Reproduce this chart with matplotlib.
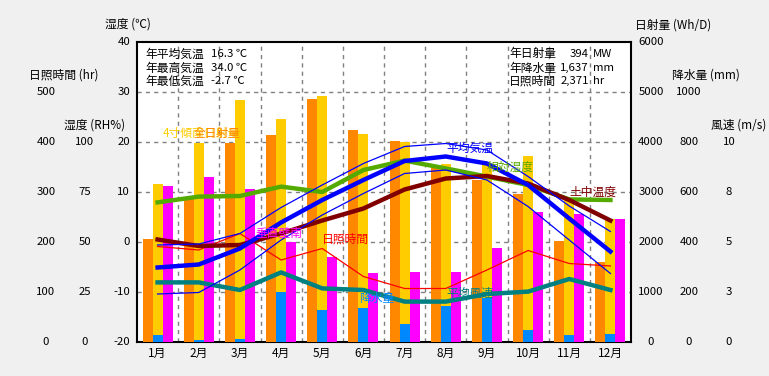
import matplotlib
matplotlib.use("Agg")
import matplotlib.pyplot as plt
import matplotlib.transforms as mtransforms
import numpy as np

plt.rcParams['font.family'] = ['Noto Sans CJK JP', 'DejaVu Sans']

months = ['1月', '2月', '3月', '4月', '5月', '6月', '7月', '8月', '9月', '10月', '11月', '12月']
# solar radiation (Wh/D)
rad_horizontal = [2060, 2860, 3987, 4140, 4860, 4240, 4027, 3487, 3240, 2960, 2020, 1600]
rad_tilt_south = [3160, 3987, 4840, 4460, 4927, 4160, 4000, 3567, 3540, 3720, 2840, 2460]
rad_wall_south = [3120, 3300, 3060, 2000, 1707, 1380, 1400, 1400, 1887, 2600, 2560, 2460]
# precipitation (mm)
precip = [28, 8, 12, 200, 128, 136, 72, 144, 175, 48, 28, 32]
# temperatures (deg C)
temp_mean = [-5.1, -4.5, -1.3, 3.9, 8.4, 12.4, 16.2, 17.1, 15.7, 11.4, 4.7, -1.9]
temp_max = [-0.6, -0.4, 1.7, 6.9, 11.4, 15.7, 19.1, 19.7, 18.4, 13.1, 7.2, 2.1]
temp_min = [-10.4, -10.1, -5.6, 0.4, 5.4, 9.7, 13.7, 14.4, 12.4, 7.1, 0.4, -6.3]
temp_soil = [0.5, -0.8, -0.6, 1.7, 4.3, 6.7, 10.5, 12.7, 13.2, 11.7, 8.4, 4.3]
# relative humidity (%)
humidity = [69.8, 72.7, 73.0, 77.7, 75.0, 86.0, 90.7, 86.8, 82.7, 78.5, 71.3, 71.0]
# sunshine hours (hr)
sunshine = [191, 184, 217, 164, 187, 131, 107, 107, 144, 183, 157, 152]
# wind speed (m/s)
wind = [2.98, 2.98, 2.6, 3.48, 2.68, 2.6, 2.02, 2.02, 2.4, 2.52, 3.15, 2.6]

temp_ticks = [40, 30, 20, 10, 0, -10, -20]
sun_ticks = [500, 400, 300, 200, 100, 0]
rh_ticks = [100, 75, 50, 25, 0]
rad_ticks = [6000, 5000, 4000, 3000, 2000, 1000, 0]
pre_ticks = [1000, 800, 600, 400, 200, 0]
wind_ticks = [10, 7.5, 5, 2.5, 0]

W, H = 769, 376
fig = plt.figure(figsize=(W / 100, H / 100), dpi=100, facecolor='#F0F0F0')
L, R, T, B = 137, 631, 42, 342
ax = fig.add_axes([L / W, 1 - B / H, (R - L) / W, (B - T) / H])
ax.set_facecolor('white')
x = np.arange(1, 13)
ax.set_xlim(0.5, 12.5)
ax.set_ylim(-20, 40)
ax.set_yticks([])
ax.set_xticks([])
for s in ax.spines.values():
    s.set_linewidth(1.5)
    s.set_color('black')
for yv in [30, 20, 10, 0, -10]:
    ax.axhline(yv, color='#808080', lw=1, ls=(0, (3, 3)), zorder=0)
for xv in np.arange(1.5, 12.5, 1):
    ax.axvline(xv, color='#808080', lw=1, ls=(0, (3, 3)), zorder=0)

def twin(lo, hi):
    a = ax.twinx()
    a.set_ylim(lo, hi)
    a.set_xlim(0.5, 12.5)
    a.axis('off')
    return a

ax_rad = twin(0, 6000)
ax_pre = twin(0, 1200)
ax_sun = twin(0, 600)
ax_rh = twin(0, 150)
ax_wind = twin(0, 15)
ax_soil = twin(-20, 40)
ax_t = twin(-20, 40)

bw = 10 / 41.17
ax_rad.bar(x - bw, rad_horizontal, width=bw, color='#FF8800', linewidth=0)
ax_rad.bar(x, rad_tilt_south, width=bw, color='#FFCC00', linewidth=0)
ax_rad.bar(x + bw, rad_wall_south, width=bw, color='#FF00FF', linewidth=0)
ax_pre.bar(x, precip, width=bw, color='#0088FF', linewidth=0)

ax_sun.plot(x, sunshine, color='#FF0000', lw=0.9)
ax_wind.plot(x, wind, color='#008080', lw=3.2)
ax_rh.plot(x, humidity, color='#55AA00', lw=3.2)
ax_soil.plot(x, temp_soil, color='#800000', lw=3.2)
ax_t.plot(x, temp_max, color='#0000FF', lw=0.9)
ax_t.plot(x, temp_min, color='#0000FF', lw=0.9)
ax_t.plot(x, temp_mean, color='#0000FF', lw=3.2)

fs = 8.5
fsn = 8.2

def px(xp):
    return (xp - L) / (R - L)

def py(yp):
    return (B - yp) / (B - T)

# in-plot series labels
labels = [
    ('4寸傾南日射量', 163, 133, '#FFCC00', 'left'),
    ('全日射量', 241, 133, '#FF8800', 'right'),
    ('垂直壁南', 255, 233, '#FF00FF', 'left'),
    ('日照時間', 322, 239, '#FF0000', 'left'),
    ('降水量', 359, 298, '#0088FF', 'left'),
    ('平均風速', 446, 293, '#008080', 'left'),
    ('平均気温', 446, 148, '#0000FF', 'left'),
    ('相対湿度', 487, 167, '#55AA00', 'left'),
    ('土中温度', 569, 192, '#800000', 'left'),
]
for t, xp, yp, c, ha in labels:
    ax_t.text(px(xp), py(yp), t, color=c, fontsize=fs, ha=ha, va='center',
              transform=ax.transAxes, zorder=10)

# annual statistics
stats_left = [('年平均気温', '16.3 ℃'), ('年最高気温', '34.0 ℃'), ('年最低気温', '-2.7 ℃')]
stats_right = [('年日射量', '394', 'MW'), ('年降水量', '1,637', 'mm'), ('日照時間', '2,371', 'hr')]
rows = [54, 68, 81]
for (a, b), yp in zip(stats_left, rows):
    ax_t.text(px(145), py(yp), a, fontsize=fs, ha='left', va='center', transform=ax.transAxes)
    ax_t.text(px(211), py(yp), b, fontsize=fsn, ha='left', va='center', transform=ax.transAxes)
for (a, b, c), yp in zip(stats_right, rows):
    ax_t.text(px(509), py(yp), a, fontsize=fs, ha='left', va='center', transform=ax.transAxes)
    ax_t.text(px(589), py(yp), b, fontsize=fsn, ha='right', va='center', transform=ax.transAxes)
    ax_t.text(px(593), py(yp), c, fontsize=fsn, ha='left', va='center', transform=ax.transAxes)

# tick labels on each scale
def ticklabels(axis, ticks, xp, ha, fmt=lambda v: f'{v:g}'):
    tr = mtransforms.blended_transform_factory(ax.transAxes, axis.transData)
    for v in ticks:
        axis.text(px(xp), v, fmt(v), fontsize=fsn, ha=ha, va='center', transform=tr,
                  clip_on=False)

ticklabels(ax_t, temp_ticks, 130, 'right')
ticklabels(ax_sun, sun_ticks, 46, 'center')
ticklabels(ax_rh, rh_ticks, 85, 'center')
ticklabels(ax_rad, rad_ticks, 651, 'center')
ticklabels(ax_pre, pre_ticks, 689, 'center')
ticklabels(ax_wind, wind_ticks, 729, 'center', fmt=lambda v: f'{int(v + 0.5)}')

# month labels
trm = mtransforms.blended_transform_factory(ax_t.transData, ax.transAxes)
for xi, m in zip(x, months):
    ax_t.text(xi, py(353), m, fontsize=fs, ha='center', va='center', transform=trm, clip_on=False)

# axis titles
titles = [('湿度 (℃)', 128, 24), ('日照時間 (hr)', 64, 75), ('湿度 (RH%)', 95, 125),
          ('日射量 (Wh/D)', 673, 25), ('降水量 (mm)', 706, 75), ('風速 (m/s)', 739, 125)]
for t, xp, yp in titles:
    fig.text(xp / W, 1 - yp / H, t, fontsize=fs, ha='center', va='center')

fig.savefig('out.png', dpi=100, facecolor=fig.get_facecolor())
